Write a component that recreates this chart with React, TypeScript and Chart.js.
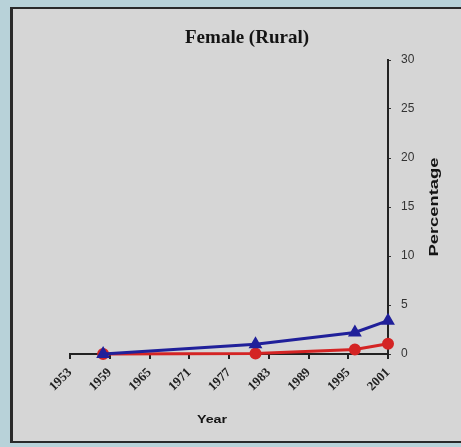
import React, { useEffect, useRef } from "react";
import { Chart, registerables } from "chart.js";

Chart.register(...registerables);

const years = [1958, 1981, 1996, 2001];
const seriesBlue = [0, 1.0, 2.2, 3.4];
const seriesRed = [0, 0.05, 0.45, 1.05];
const xTicks = [1953, 1959, 1965, 1971, 1977, 1983, 1989, 1995, 2001];
const yTicks = [0, 5, 10, 15, 20, 25, 30];
const chartTitle = "Female (Rural)";
const xTitle = "Year";
const yTitle = "Percentage";

const textPlugin = {
  id: "customText",
  afterDraw(chart: any) {
    const ctx = chart.ctx;
    ctx.save();
    ctx.fillStyle = "#141414";
    ctx.textAlign = "center";
    ctx.textBaseline = "middle";
    ctx.font = "bold 19px 'Liberation Serif'";
    ctx.fillText(chartTitle, 247, 38);

    ctx.save();
    ctx.translate(212, 420);
    ctx.scale(1.3, 1);
    ctx.font = "bold 11px 'Liberation Sans'";
    ctx.fillText(xTitle, 0, 0);
    ctx.restore();

    ctx.save();
    ctx.translate(434, 207);
    ctx.rotate(-Math.PI / 2);
    ctx.font = "bold 13px 'Liberation Sans'";
    const w = ctx.measureText(yTitle).width;
    ctx.scale(99 / w, 1);
    ctx.fillText(yTitle, 0, 0);
    ctx.restore();
    ctx.restore();
  },
};

export default function App() {
  const ref = useRef<HTMLCanvasElement>(null);
  useEffect(() => {
    if (!ref.current) return;
    const chart = new Chart(ref.current, {
      type: "line",
      data: {
        datasets: [
          {
            label: "Red",
            order: 2,
            data: years.map((x, i) => ({ x, y: seriesRed[i] })),
            borderColor: "#d42424",
            backgroundColor: "#d42424",
            borderWidth: 3,
            pointStyle: "circle",
            pointRadius: 4.5,
            tension: 0,
            clip: false,
          },
          {
            label: "Blue",
            order: 1,
            data: years.map((x, i) => ({ x, y: seriesBlue[i] })),
            borderColor: "#20209a",
            backgroundColor: "#20209a",
            borderWidth: 3,
            pointStyle: "triangle",
            pointRadius: 5,
            tension: 0,
            clip: false,
          },
        ],
      },
      options: {
        animation: false,
        responsive: false,
        maintainAspectRatio: false,
        layout: { padding: { left: 70, top: 60, right: 33, bottom: 43 } },
        plugins: { legend: { display: false }, tooltip: { enabled: false } },
        scales: {
          x: {
            type: "linear",
            min: 1953,
            max: 2001,
            afterBuildTicks: (s: any) => {
              s.ticks = xTicks.map((v) => ({ value: v }));
            },
            afterFit: (s: any) => {
              s.height = 50;
            },
            ticks: {
              minRotation: 45,
              maxRotation: 45,
              color: "#222",
              font: { family: "'Liberation Serif'", size: 13, weight: "bold" },
              padding: 6,
              callback: (v: any) => String(v),
            },
            grid: {
              drawOnChartArea: false,
              drawTicks: true,
              tickLength: 5,
              color: "#222",
              lineWidth: 2,
            },
            border: { display: true, color: "#222", width: 2 },
          },
          y: {
            position: "right",
            min: 0,
            max: 30,
            afterBuildTicks: (s: any) => {
              s.ticks = yTicks.map((v) => ({ value: v }));
            },
            afterFit: (s: any) => {
              s.width = 40;
            },
            ticks: {
              color: "#333",
              font: { family: "'Liberation Sans'", size: 12 },
              padding: 10,
            },
            grid: {
              drawOnChartArea: false,
              drawTicks: true,
              tickLength: 3,
              color: "#333",
              lineWidth: 1,
            },
            border: { display: true, color: "#222", width: 2 },
          },
        },
      },
      plugins: [textPlugin],
    });
    return () => chart.destroy();
  }, []);

  return (
    <div
      style={{
        position: "fixed",
        left: 0,
        top: 0,
        width: 461,
        height: 447,
        background: "#b8d2d9",
        overflow: "hidden",
      }}
    >
      <div
        style={{
          position: "absolute",
          left: 10,
          top: 7,
          width: 451,
          height: 436,
          background: "#d6d6d6",
          borderLeft: "3px solid #2a2a2a",
          borderTop: "2px solid #2a2a2a",
          borderBottom: "2px solid #2a2a2a",
          boxSizing: "border-box",
        }}
      />
      <canvas
        ref={ref}
        width={461}
        height={447}
        style={{ position: "absolute", left: 0, top: 0, width: 461, height: 447 }}
      />
    </div>
  );
}
